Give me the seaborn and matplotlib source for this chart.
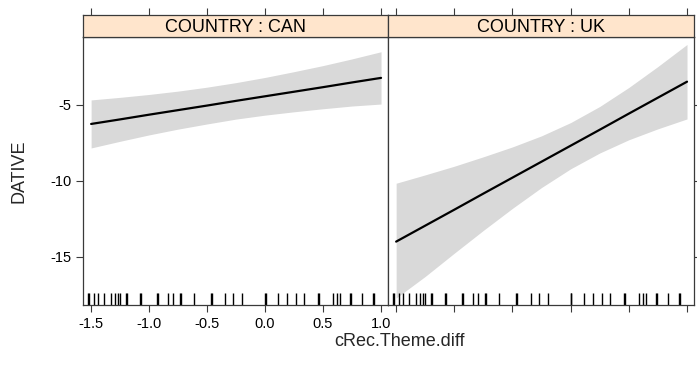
import numpy as np
import pandas as pd
import matplotlib
matplotlib.use("Agg")
import matplotlib.pyplot as plt
import seaborn as sns

# effect of cRec.Theme.diff on DATIVE, by country
countries = ["CAN", "UK"]
theme_diff = [-1.5, -1.25, -1.0, -0.75, -0.5, -0.25, 0.0, 0.25, 0.5, 0.75, 1.0]

can_fit = [-6.25, -5.95, -5.64, -5.34, -5.04, -4.73, -4.43, -4.13, -3.83, -3.52, -3.22]
can_lower = [-7.83, -7.39, -6.97, -6.59, -6.25, -5.93, -5.67, -5.45, -5.25, -5.07, -4.94]
can_upper = [-4.67, -4.50, -4.31, -4.09, -3.83, -3.53, -3.19, -2.81, -2.41, -1.97, -1.50]

uk_fit = [-13.99, -12.94, -11.89, -10.83, -9.78, -8.73, -7.68, -6.63, -5.57, -4.52, -3.47]
uk_lower = [-17.7, -16.28, -14.75, -13.25, -11.80, -10.43, -9.20, -8.16, -7.29, -6.57, -5.92]
uk_upper = [-10.15, -9.60, -9.03, -8.41, -7.76, -7.03, -6.16, -5.10, -3.85, -2.47, -1.02]

# observed predictor values (rug), same in both panels
rug_x = [-1.526, -1.520, -1.474, -1.440, -1.388, -1.328, -1.293, -1.267, -1.250,
         -1.198, -1.192, -1.078, -1.072, -0.931, -0.925, -0.836, -0.793, -0.733,
         -0.727, -0.612, -0.466, -0.460, -0.345, -0.276, -0.198, 0.0, 0.006,
         0.112, 0.190, 0.267, 0.336, 0.457, 0.463, 0.586, 0.621, 0.647, 0.733,
         0.739, 0.836, 0.931, 0.937]

x_ticks = [-1.5, -1.0, -0.5, 0.0, 0.5, 1.0]
x_tick_labels = ["-1.5", "-1.0", "-0.5", "0.0", "0.5", "1.0"]
y_ticks = [-5, -10, -15]
y_tick_labels = ["-5", "-10", "-15"]

fits = {"CAN": (can_fit, can_lower, can_upper), "UK": (uk_fit, uk_lower, uk_upper)}
rows = []
for c in countries:
    f, lo, up = fits[c]
    for i in range(len(theme_diff)):
        rows.append({"country": c, "x": theme_diff[i], "fit": f[i], "lower": lo[i], "upper": up[i]})
df = pd.DataFrame(rows)

sns.set_theme(style="white")
plt.rcParams["font.family"] = ["Liberation Sans", "DejaVu Sans"]

W, H = 697, 368
fig = plt.figure(figsize=(W / 100, H / 100), dpi=100)

border = "#3a3a3a"
panel_lefts = [83, 388]
panel_w = [305, 306]
for i, c in enumerate(countries):
    l = panel_lefts[i] / W
    w = panel_w[i] / W
    ax = fig.add_axes([l, (H - 305) / H, w, 268 / H])
    sub = df[df["country"] == c]
    ax.fill_between(sub["x"], sub["lower"], sub["upper"], color="#d9d9d9", lw=0)
    sns.lineplot(data=sub, x="x", y="fit", color="black", lw=1.6, ax=ax)
    sns.rugplot(x=rug_x, height=0.045, color="black", lw=1.1, ax=ax, expand_margins=False)
    ax.set_xlim(-1.57, 1.06)
    ax.set_ylim(-18.16, -0.53)
    ax.set_xlabel("")
    ax.set_ylabel("")
    ax.set_xticks(x_ticks)
    ax.set_yticks(y_ticks)
    for s in ax.spines.values():
        s.set_color(border)
        s.set_linewidth(0.9)
    if i == 0:
        ax.set_xticklabels(x_tick_labels)
        ax.set_yticklabels(y_tick_labels)
        ax.tick_params(axis="x", bottom=True, labelbottom=True, pad=4)
        ax.tick_params(axis="y", left=True, labelleft=True, right=False, pad=3.5)
    else:
        ax.tick_params(axis="x", bottom=True, labelbottom=False)
        ax.tick_params(axis="y", left=False, labelleft=False, right=True, labelright=False)
    ax.tick_params(direction="out", length=5, width=0.8, color=border,
                   labelsize=10.5, labelcolor="black")

    strip = fig.add_axes([l, (H - 37) / H, w, 22 / H], sharex=ax)
    strip.set_facecolor("#ffe5cc")
    strip.set_yticks([])
    strip.tick_params(axis="x", top=True, bottom=False, labeltop=False, labelbottom=False,
                      direction="out", length=5, width=0.8, color=border)
    for s in strip.spines.values():
        s.set_color(border)
        s.set_linewidth(0.9)
    strip.text(0.5, 0.45, f"COUNTRY : {c}", transform=strip.transAxes,
               ha="center", va="center", fontsize=13, color="black")

fig.text(399.5 / W, (H - 341) / H, "cRec.Theme.diff", ha="center", va="center", fontsize=13)
fig.text(19 / W, (H - 171) / H, "DATIVE", ha="center", va="center", rotation=90, fontsize=13)

fig.savefig("out.png", dpi=100)
